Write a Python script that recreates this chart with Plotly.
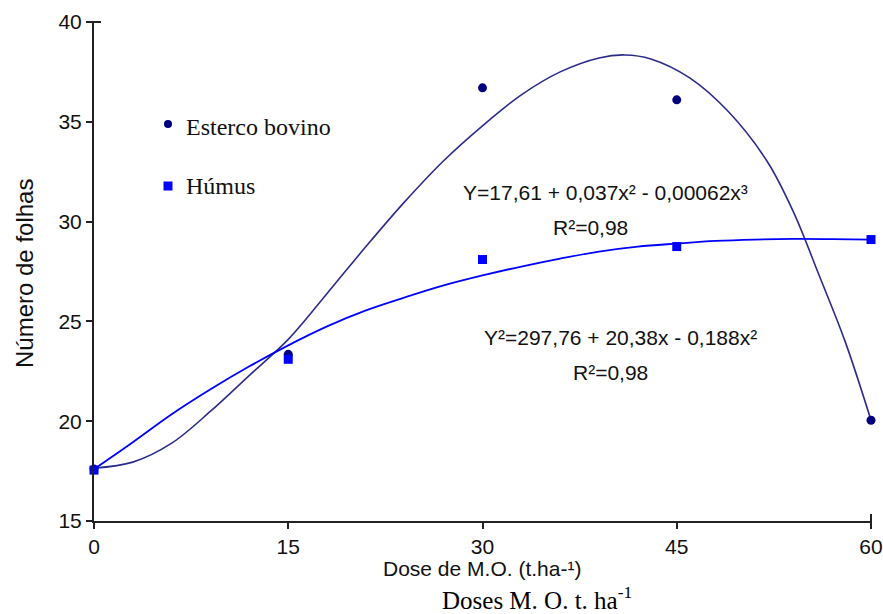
import plotly.graph_objects as go

# ---- data ----
doses = [0, 15, 30, 45, 60]
esterco = [17.6, 23.35, 36.7, 36.1, 20.05]
humus = [17.55, 23.1, 28.1, 28.75, 29.1]

# trend curves
esterco_fit_x = [0, 3, 6, 9, 12, 15, 18, 21, 24, 27, 30, 33, 36, 39, 41, 43, 46, 49, 52, 54, 56, 58, 60]
esterco_fit_y = [17.65, 17.95, 18.9, 20.5, 22.3, 24.1, 26.4, 28.75, 31.0, 33.05, 34.8, 36.35, 37.5,
                 38.2, 38.35, 38.15, 37.2, 35.5, 33.0, 30.5, 27.3, 24.0, 20.05]
humus_fit_x = [0, 3, 6, 9, 12, 15, 18, 21, 24, 27, 30, 33, 36, 39, 42, 45, 48, 51, 54, 57, 60]
humus_fit_y = [17.6, 18.95, 20.35, 21.6, 22.75, 23.8, 24.75, 25.55, 26.2, 26.8, 27.3, 27.75, 28.15,
               28.5, 28.75, 28.9, 29.03, 29.1, 29.13, 29.12, 29.1]

x_ticks = [0, 15, 30, 45, 60]
y_ticks = [15, 20, 25, 30, 35, 40]

NAVY = "#00007F"
NAVY_LINE = "#2B2B8C"
BLUE = "#0000FF"

fig = go.Figure()
fig.add_trace(go.Scatter(x=esterco_fit_x, y=esterco_fit_y, mode="lines",
                         line=dict(color=NAVY_LINE, width=1.6, shape="spline", smoothing=1.0),
                         showlegend=False, cliponaxis=False, hoverinfo="skip"))
fig.add_trace(go.Scatter(x=humus_fit_x, y=humus_fit_y, mode="lines",
                         line=dict(color=BLUE, width=1.8, shape="spline", smoothing=1.0),
                         showlegend=False, cliponaxis=False, hoverinfo="skip"))
fig.add_trace(go.Scatter(x=doses, y=esterco, mode="markers", name="Esterco bovino",
                         marker=dict(color=NAVY, size=9, symbol="circle"),
                         showlegend=False, cliponaxis=False))
fig.add_trace(go.Scatter(x=doses, y=humus, mode="markers", name="Húmus",
                         marker=dict(color=BLUE, size=9, symbol="square"),
                         showlegend=False, cliponaxis=False))

# body margin is removed in the page (post_script), so figure px == page px
W, H = 883, 614
L, T = 94, 22
PR, PB = 871, 521  # plot right / bottom
R, B = W - PR, H - PB
pw, ph = PR - L, PB - T


def px(x):  # page pixel -> paper
    return (x - L) / pw


def py(y):
    return 1 - (y - T) / ph


ann = []
arial = "Arial, Liberation Sans, sans-serif"
times = "Times New Roman, Liberation Serif, serif"

# legend (drawn manually)
fig.add_shape(type="circle", xref="paper", yref="paper",
              x0=px(164), x1=px(172), y0=py(128), y1=py(120),
              fillcolor=NAVY, line=dict(width=0))
fig.add_shape(type="rect", xref="paper", yref="paper",
              x0=px(163.5), x1=px(172.5), y0=py(190.5), y1=py(181.5),
              fillcolor=BLUE, line=dict(width=0))
ann.append(dict(text="Esterco bovino", x=px(184), y=py(127), xanchor="left", yanchor="middle",
                font=dict(family=times, size=24, color="#111")))
ann.append(dict(text="Húmus", x=px(184), y=py(186), xanchor="left", yanchor="middle",
                font=dict(family=times, size=24, color="#111")))

# crossing end ticks (40 on y, 60 on x)
fig.add_shape(type="line", xref="paper", yref="paper",
              x0=px(87), x1=px(101), y0=py(22), y1=py(22), line=dict(color="#222", width=2))
fig.add_shape(type="line", xref="paper", yref="paper",
              x0=px(871), x1=px(871), y0=py(514), y1=py(527), line=dict(color="#222", width=2))

# equations
ann.append(dict(text="Y=17,61 + 0,037x² - 0,00062x³", x=px(605), y=py(192),
                xanchor="center", yanchor="middle", font=dict(family=arial, size=21, color="#111")))
ann.append(dict(text="R²=0,98", x=px(590), y=py(227),
                xanchor="center", yanchor="middle", font=dict(family=arial, size=21, color="#111")))
ann.append(dict(text="Y²=297,76 + 20,38x - 0,188x²", x=px(620), y=py(337),
                xanchor="center", yanchor="middle", font=dict(family=arial, size=21, color="#111")))
ann.append(dict(text="R²=0,98", x=px(610), y=py(372),
                xanchor="center", yanchor="middle", font=dict(family=arial, size=21, color="#111")))

# axis titles
ann.append(dict(text="Número de folhas", x=px(24), y=py(274), textangle=-90,
                xanchor="center", yanchor="middle", font=dict(family=arial, size=24, color="#111")))
ann.append(dict(text="Dose de M.O. (t.ha-¹)", x=px(482), y=py(568),
                xanchor="center", yanchor="middle", font=dict(family=arial, size=21, color="#111")))
ann.append(dict(text="Doses M. O. t. ha<sup>-1</sup>", x=px(537), y=py(598),
                xanchor="center", yanchor="middle", font=dict(family=times, size=25, color="#000")))

for a in ann:
    a.update(xref="paper", yref="paper", showarrow=False)

fig.update_layout(
    width=W, height=H,
    margin=dict(l=L, r=R, t=T, b=B, pad=0, autoexpand=False),
    plot_bgcolor="white", paper_bgcolor="white",
    annotations=ann,
    hovermode=False,
    xaxis=dict(range=[0, 60], tickvals=x_ticks, showgrid=False, zeroline=False, automargin=False,
               showline=True, linecolor="#222", linewidth=2,
               ticks="outside", ticklen=6, tickwidth=2, tickcolor="#222",
               tickfont=dict(family=arial, size=21, color="#111")),
    yaxis=dict(range=[15, 40], tickvals=y_ticks, showgrid=False, zeroline=False, automargin=False,
               showline=True, linecolor="#222", linewidth=2,
               ticks="outside", ticklen=6, tickwidth=2, tickcolor="#222",
               tickfont=dict(family=arial, size=21, color="#111")),
)

fig.write_html("out.html",
               config={"displayModeBar": False, "staticPlot": True},
               post_script="document.body.style.margin='0';document.body.style.overflow='hidden';")
